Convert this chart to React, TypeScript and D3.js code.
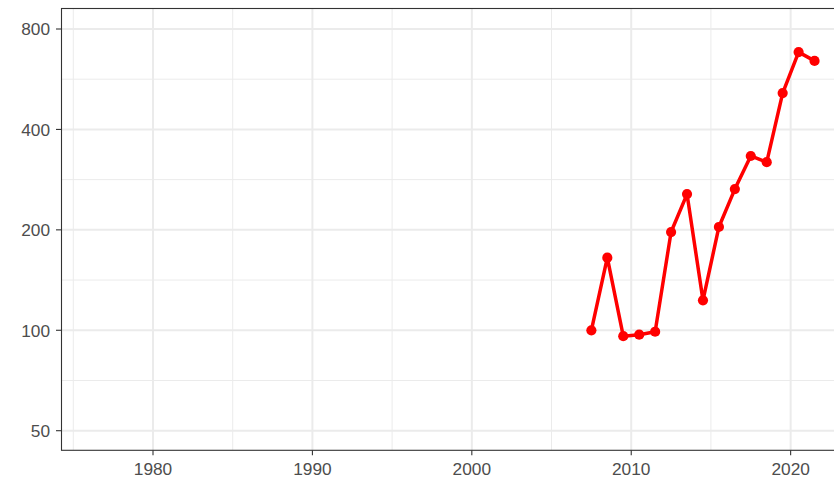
import * as d3 from "d3";

const WIDTH = 834;
const HEIGHT = 480;
const PANEL = { left: 61.5, top: 8.5, right: 836, bottom: 450.3 };

// data (half-year positions)
const years = [2007.5, 2008.5, 2009.5, 2010.5, 2011.5, 2012.5, 2013.5, 2014.5, 2015.5, 2016.5, 2017.5, 2018.5, 2019.5, 2020.5, 2021.5];
const values = [100, 165, 96, 97, 99, 197, 256, 123, 204, 265, 333, 319, 514, 682, 642];

const xDomain = [1974.26, 2022.72];
const xBreaks = [1980, 1990, 2000, 2010, 2020];
const xMinor = [1975, 1985, 1995, 2005, 2015];
const yBreaks = [50, 100, 200, 400, 800];
const yMinor = [Math.SQRT2 * 25, Math.SQRT2 * 50, Math.SQRT2 * 100, Math.SQRT2 * 200, Math.SQRT2 * 400];

const FONT = "'Liberation Sans', Arial, sans-serif";
const RED = "#FF0000";

export default function App() {
  const x = d3.scaleLinear().domain(xDomain).range([PANEL.left, 834]);
  const y = d3.scaleLog().base(2).domain([50, 800]).range([430.7, 29]);
  const pts = years.map((yr, i) => [x(yr), y(values[i])] as [number, number]);
  const line = d3.line()(pts) || "";

  return (
    <svg
      width={WIDTH}
      height={HEIGHT}
      style={{ position: "absolute", left: 0, top: 0, background: "#fff" }}
      fontFamily={FONT}
    >
      <defs>
        <clipPath id="panel">
          <rect x={PANEL.left} y={PANEL.top} width={PANEL.right - PANEL.left} height={PANEL.bottom - PANEL.top} />
        </clipPath>
      </defs>
      <g clipPath="url(#panel)">
        {yMinor.map((v) => (
          <line key={"ym" + v} x1={PANEL.left} x2={PANEL.right} y1={y(v)} y2={y(v)} stroke="#EBEBEB" strokeWidth={1} />
        ))}
        {xMinor.map((v) => (
          <line key={"xm" + v} x1={x(v)} x2={x(v)} y1={PANEL.top} y2={PANEL.bottom} stroke="#EBEBEB" strokeWidth={1} />
        ))}
        {yBreaks.map((v) => (
          <line key={"yM" + v} x1={PANEL.left} x2={PANEL.right} y1={y(v)} y2={y(v)} stroke="#EBEBEB" strokeWidth={2} />
        ))}
        {xBreaks.map((v) => (
          <line key={"xM" + v} x1={x(v)} x2={x(v)} y1={PANEL.top} y2={PANEL.bottom} stroke="#EBEBEB" strokeWidth={2} />
        ))}
        <path d={line} fill="none" stroke={RED} strokeWidth={3.5} strokeLinejoin="round" />
        {pts.map(([px, py], i) => (
          <circle key={i} cx={px} cy={py} r={5.1} fill={RED} />
        ))}
      </g>
      <rect
        x={PANEL.left}
        y={PANEL.top}
        width={PANEL.right - PANEL.left}
        height={PANEL.bottom - PANEL.top}
        fill="none"
        stroke="#333333"
        strokeWidth={1.1}
      />
      {yBreaks.map((v) => (
        <g key={"yt" + v}>
          <line x1={PANEL.left - 5.5} x2={PANEL.left} y1={y(v)} y2={y(v)} stroke="#333333" strokeWidth={1.1} />
          <text x={PANEL.left - 11.5} y={y(v)} dy="0.36em" textAnchor="end" fontSize={17.3} fill="#4D4D4D">
            {v}
          </text>
        </g>
      ))}
      {xBreaks.map((v) => (
        <g key={"xt" + v}>
          <line x1={x(v)} x2={x(v)} y1={PANEL.bottom} y2={PANEL.bottom + 5} stroke="#333333" strokeWidth={1.1} />
          <text x={x(v)} y={475} textAnchor="middle" fontSize={17.3} fill="#4D4D4D">
            {v}
          </text>
        </g>
      ))}
    </svg>
  );
}
